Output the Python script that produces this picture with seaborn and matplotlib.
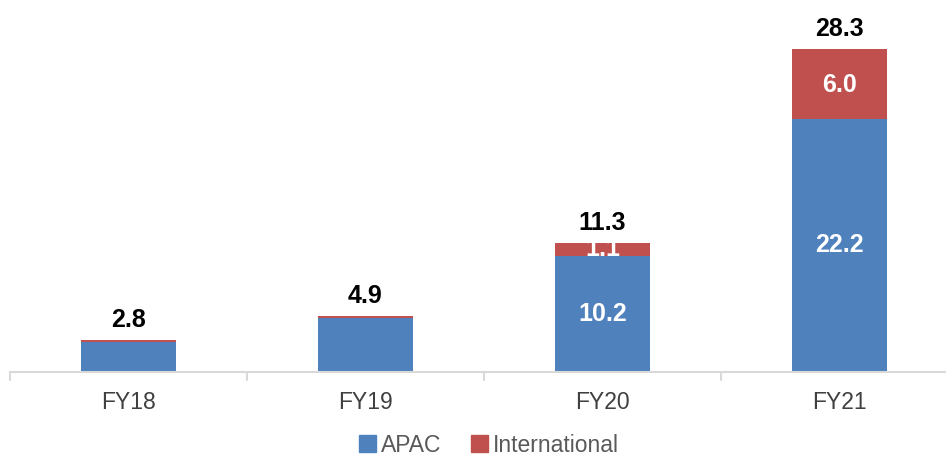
import pandas as pd
import numpy as np
import matplotlib.pyplot as plt
import seaborn as sns
from matplotlib.patches import Patch

# Data
years = ["FY18", "FY19", "FY20", "FY21"]
apac = [2.6, 4.7, 10.2, 22.2]
international = [0.2, 0.2, 1.1, 6.0]
totals = [2.8, 4.9, 11.3, 28.3]

blue = "#4F81BD"
red = "#C0504D"

df = pd.DataFrame({"Year": years, "APAC": apac,
                   "International": international, "Total": totals})

sns.set_style("white")
plt.rcParams["font.family"] = ["Liberation Sans", "DejaVu Sans"]

fig = plt.figure(figsize=(9.46, 4.59), dpi=100)
ax = fig.add_axes([10 / 946, 87 / 459, 948 / 946, 342 / 459])

# stacked: draw totals in red, then APAC in blue over it
sns.barplot(data=df, x="Year", y="Total", color=red, width=0.4,
            saturation=1, linewidth=0, edgecolor="none", ax=ax)
sns.barplot(data=df, x="Year", y="APAC", color=blue, width=0.4,
            saturation=1, linewidth=0, edgecolor="none", ax=ax)

ax.set_xlim(-0.5, 3.5)
ax.set_ylim(0, 30)
ax.set_xlabel("")
ax.set_ylabel("")
ax.set_yticks([])
for s in ["top", "right", "left"]:
    ax.spines[s].set_visible(False)
ax.spines["bottom"].set_color("#D9D9D9")
ax.spines["bottom"].set_linewidth(1.5)

ax.set_xticks(range(len(years)))
ax.set_xticklabels(years, fontsize=16.5, color="#404040")
ax.tick_params(axis="x", length=0, pad=14)
# boundary tick marks between categories
for b in np.arange(-0.5, 4.0, 1.0):
    ax.plot([b, b], [0, -0.7], color="#D9D9D9", lw=1.5, clip_on=False)

for i in range(len(years)):
    ax.annotate(f"{totals[i]:.1f}", (i, totals[i]), xytext=(0, 6),
                textcoords="offset points", ha="center", va="bottom",
                fontsize=18, fontweight="bold", color="black")
    if apac[i] > 5:
        ax.text(i, apac[i] / 2, f"{apac[i]:.1f}", ha="center", va="center",
                fontsize=18, fontweight="bold", color="white")
    if international[i] > 0.5:
        ax.text(i, apac[i] + international[i] / 2, f"{international[i]:.1f}",
                ha="center", va="center", fontsize=18, fontweight="bold",
                color="white")

handles = [Patch(color=blue, label="APAC"), Patch(color=red, label="International")]
fig.legend(handles=handles, loc="lower center", bbox_to_anchor=(0.517, -0.04),
           ncol=2, frameon=False, fontsize=16.5, labelcolor="#595959",
           handlelength=0.75, handleheight=0.75, handletextpad=0.2,
           columnspacing=1.3)

fig.savefig("out.png", dpi=100)
